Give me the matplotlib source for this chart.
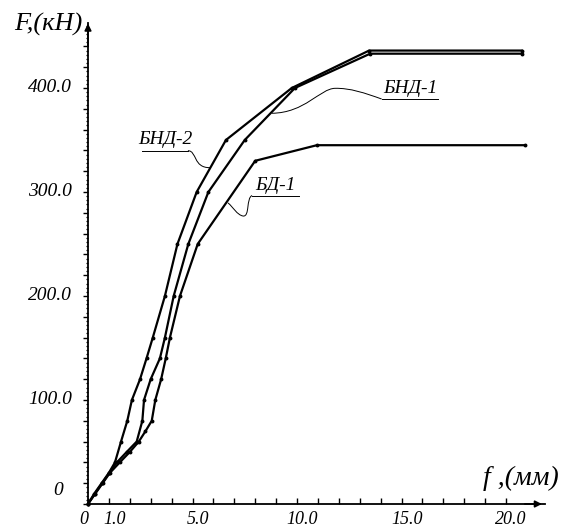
import matplotlib
matplotlib.use("Agg")
import matplotlib.pyplot as plt
from matplotlib.path import Path
from matplotlib.patches import PathPatch
from matplotlib.ticker import FixedLocator, MultipleLocator

# ---- data (f in mm, F in kN) ----
bnd2_f = [0, 0.3, 0.65, 1.0, 1.29, 1.58, 1.88, 2.1, 2.49, 2.8, 3.1, 3.68, 4.28, 5.2, 6.6, 9.75, 13.45, 20.75]
bnd2_F = [0, 10, 20, 30, 40, 60, 80, 100, 120, 140, 160, 200, 250, 300, 350, 400, 436, 436]

bnd1_f = [0, 0.33, 0.68, 1.02, 1.38, 1.85, 2.33, 2.6, 2.68, 3.0, 3.44, 3.68, 4.1, 4.8, 5.76, 7.5, 9.9, 13.5, 20.75]
bnd1_F = [0, 10, 20, 30, 40, 50, 60, 80, 100, 120, 140, 160, 200, 250, 300, 350, 400, 433, 433]

bd1_f = [0, 0.35, 0.7, 1.05, 1.52, 2.0, 2.43, 2.75, 3.05, 3.22, 3.5, 3.72, 3.92, 4.4, 5.25, 8.0, 10.95, 20.9]
bd1_F = [0, 10, 20, 30, 40, 50, 60, 70, 80, 100, 120, 140, 160, 200, 250, 330, 345, 345]

x_label_pos = [0, 1, 5, 10, 15, 20]
x_label_txt = ["0", "1.0", "5.0", "10.0", "15.0", "20.0"]
y_label_pos = [100, 200, 300, 400]
y_label_txt = ["100.0", "200.0", "300.0", "400.0"]

SERIF = ["Liberation Serif", "DejaVu Serif"]
plt.rcParams["font.family"] = SERIF
plt.rcParams["font.style"] = "italic"

W, H = 566, 527
fig = plt.figure(figsize=(W / 100, H / 100), dpi=100)
x0, y0 = 88, 504          # pixel position of origin
xr, yr = 545, 23          # pixel right / top of axes
ax = fig.add_axes([x0 / W, (H - y0) / H, (xr - x0) / W, (y0 - yr) / H])
ax.set_xlim(0, (xr - x0) / 20.9)
ax.set_ylim(0, (y0 - yr) / 1.04)
ax.patch.set_alpha(0)

for s in ("top", "right"):
    ax.spines[s].set_visible(False)
for s in ("left", "bottom"):
    ax.spines[s].set_linewidth(1.3)

# ticks
xt = list(range(0, 21))
ax.xaxis.set_major_locator(FixedLocator(xt))
ax.set_xticklabels([""] * len(xt))
ax.tick_params(axis="x", direction="in", length=4.5, width=1.0)
yt = list(range(0, 441, 20))
ax.yaxis.set_major_locator(FixedLocator(yt))
ax.set_yticklabels([""] * len(yt))
ax.yaxis.set_minor_locator(MultipleLocator(4))
ax.tick_params(axis="y", which="major", direction="out", length=3.8, width=1.0)
ax.tick_params(axis="y", which="minor", direction="out", length=1.8, width=0.9)

# tick labels as text
for v, t in zip(x_label_pos, x_label_txt):
    dx = -0.2 if v == 0 else 0.25
    ax.text(v + dx, -7, t, ha="center", va="top", fontsize=13, fontstyle="italic", clip_on=False)
for v, t in zip(y_label_pos, y_label_txt):
    ax.text(-0.75, v, t, ha="right", va="center", fontsize=14, fontstyle="italic", clip_on=False)
ax.text(-1.2, 13, "0", ha="right", va="center", fontsize=14, fontstyle="italic", clip_on=False)

# arrows
ax.annotate("", xy=(21.72, 0), xytext=(20.9, 0), xycoords="data",
            arrowprops=dict(arrowstyle="-|>", color="k", lw=1.2, mutation_scale=10,
                            shrinkA=0, shrinkB=0), annotation_clip=False)
ax.annotate("", xy=(0, 462), xytext=(0, 440), xycoords="data",
            arrowprops=dict(arrowstyle="-|>", color="k", lw=1.2, mutation_scale=10,
                            shrinkA=0, shrinkB=0), annotation_clip=False)

# axis titles
fig.text(48 / W, 1 - 24 / H, "F,(кН)", ha="center", va="center", fontsize=19, fontstyle="italic")
fig.text(521 / W, 1 - 478 / H, "f ,(мм)", ha="center", va="center", fontsize=20, fontstyle="italic")

# curves
for fx, Fy in ((bnd2_f, bnd2_F), (bnd1_f, bnd1_F), (bd1_f, bd1_F)):
    ax.plot(fx, Fy, color="k", lw=1.6, marker="o", markersize=1.8, clip_on=False)

# labels with underline and leader
def leader(verts):
    codes = [Path.MOVETO] + [Path.CURVE4] * (len(verts) - 1)
    ax.add_patch(PathPatch(Path(verts, codes), fc="none", ec="k", lw=0.7, clip_on=False))

# БНД-2
ax.text(3.68, 342, "БНД-2", ha="center", va="bottom", fontsize=14, fontstyle="italic")
ax.plot([2.57, 4.78], [339.7, 339.7], color="k", lw=0.7)
leader([(4.78, 339.7), (5.22, 339.7), (5.02, 323.1), (5.84, 323.4)])

# БНД-1
ax.text(15.4, 391.5, "БНД-1", ha="center", va="bottom", fontsize=14, fontstyle="italic")
ax.plot([14.05, 16.75], [389.4, 389.4], color="k", lw=0.7)
leader([(14.05, 389.4), (13.25, 395.2), (12.54, 400), (11.82, 399.7),
        (11.1, 399.4), (10.38, 376), (8.79, 375.7)])

# БД-1
ax.text(8.95, 298.5, "БД-1", ha="center", va="bottom", fontsize=14, fontstyle="italic")
ax.plot([7.85, 10.1], [296.6, 296.6], color="k", lw=0.7)
leader([(7.85, 296.6), (7.56, 294.2), (7.75, 276), (7.42, 276.9),
        (7.13, 277.9), (6.94, 285.6), (6.70, 289.5)])

fig.savefig("out.png", dpi=100, facecolor="white")
